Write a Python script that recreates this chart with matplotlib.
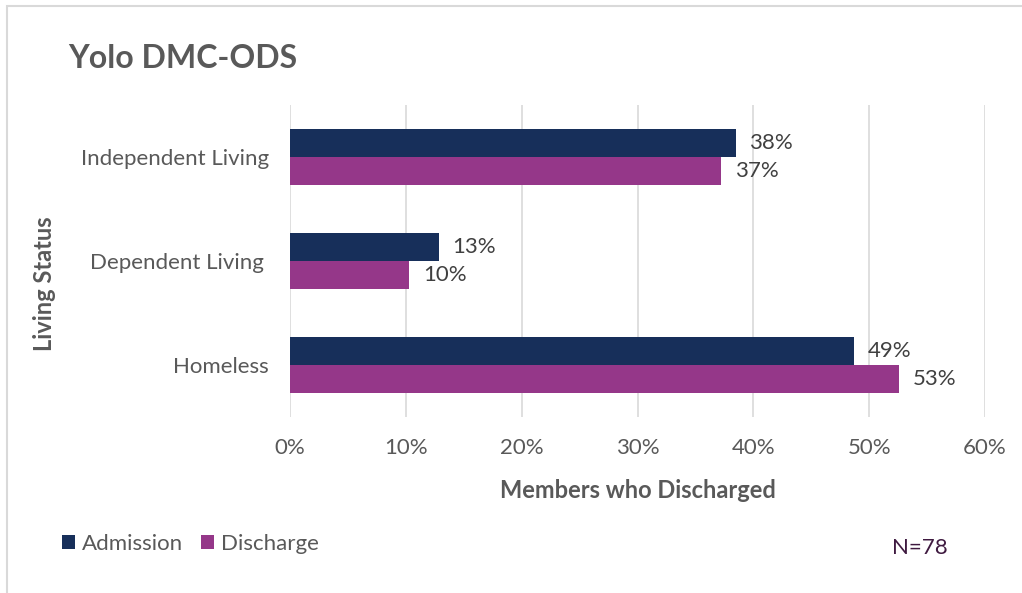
import matplotlib
matplotlib.use("Agg")
import matplotlib.pyplot as plt
from matplotlib.patches import Rectangle
import numpy as np

# counts out of N members, one per living status
categories = ["Independent Living", "Dependent Living ", "Homeless"]
admission_counts = [30, 10, 38]
discharge_counts = [29, 8, 41]
n_members = 78
x_ticks = [0, 10, 20, 30, 40, 50, 60]

admission = np.array(admission_counts) / n_members * 100
discharge = np.array(discharge_counts) / n_members * 100

NAVY = "#172F5A"
PURPLE = "#953789"
GRAY_TXT = "#595959"

plt.rcParams["font.family"] = ["Lato", "DejaVu Sans"]

fig = plt.figure(figsize=(10.22, 5.93), dpi=100)
W, H = 1022, 593
ax = fig.add_axes([290 / W, 1 - 417 / H, (985 - 290) / W, (417 - 105) / H])

y = np.arange(len(categories))
h = 0.265
ax.barh(y - h / 2, admission, height=h, color=NAVY, label="Admission")
ax.barh(y + h / 2, discharge, height=h, color=PURPLE, label="Discharge")

for yi, v in zip(y - h / 2, admission):
    ax.text(v + 1.2, yi, f"{v:.0f}%", va="center", ha="left", fontsize=16, color="#404040")
for yi, v in zip(y + h / 2, discharge):
    ax.text(v + 1.2, yi, f"{v:.0f}%", va="center", ha="left", fontsize=16, color="#404040")

ax.set_xlim(0, 60)
ax.set_ylim(2.5, -0.5)
ax.set_xticks(x_ticks)
ax.set_xticklabels([f"{t}%" for t in x_ticks], fontsize=16, color=GRAY_TXT)
ax.set_yticks(y)
ax.set_yticklabels(categories, fontsize=16, color=GRAY_TXT)
ax.tick_params(axis="x", length=0, pad=15)
ax.tick_params(axis="y", length=0, pad=15)
ax.xaxis.grid(True, color="#D9D9D9", linewidth=1.2)
ax.set_axisbelow(True)
for s in ax.spines.values():
    s.set_visible(False)

ax.set_xlabel("Members who Discharged", fontsize=17, fontweight="bold", color=GRAY_TXT, labelpad=15)
fig.text(45 / W, 1 - 284 / H, "Living Status", rotation=90, fontsize=17, fontweight="bold",
         color=GRAY_TXT, ha="center", va="center")

fig.text(68 / W, 1 - 58 / H, "Yolo DMC-ODS", fontsize=23, fontweight="bold", color=GRAY_TXT,
         ha="left", va="center")

leg = fig.legend(loc="center left", bbox_to_anchor=(42 / W, 1 - 544 / H), ncol=2, frameon=False,
                 fontsize=16, handlelength=0.6, handleheight=0.6, handletextpad=0.3, columnspacing=0.8)
for t in leg.get_texts():
    t.set_color(GRAY_TXT)

fig.text(920 / W, 1 - 548 / H, f"N={n_members}", fontsize=16, color="#3F1A40", ha="center", va="center")

fig.add_artist(Rectangle((7 / W, -0.05), 1.1, (593 - 6) / H + 0.05, transform=fig.transFigure,
                         fill=False, edgecolor="#D9D9D9", linewidth=1.5))

fig.savefig("out.png", dpi=100)
